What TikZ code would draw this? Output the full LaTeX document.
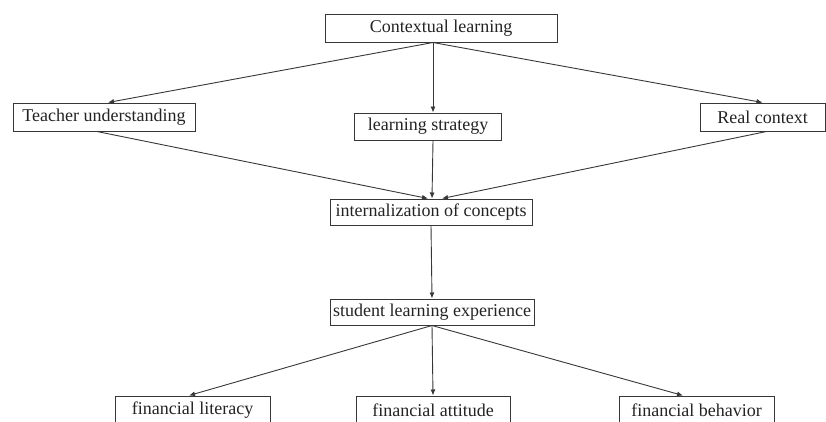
\documentclass[tikz,border=0pt]{standalone}
\usepackage{fontspec}
\setmainfont{Liberation Serif}
\usetikzlibrary{calc,arrows.meta,positioning}
\definecolor{lineColor}{RGB}{55,55,55}
\definecolor{textColor}{RGB}{35,35,35}
\newcommand{\diagfont}{\fontsize{18}{21}\selectfont}

\begin{document}
\begin{tikzpicture}[
    x=1pt, y=-1pt,
    box/.style={draw=lineColor, line width=1pt, minimum height=27pt, inner sep=0pt, align=center, font=\diagfont, text=textColor},
    arr/.style={-{Latex[length=6pt,width=5pt]}, line width=0.9pt, lineColor},
  ]
  \useasboundingbox (0,0) rectangle (826,421);
  \clip (0,0) rectangle (826,421);

  \node[box, minimum width=232pt, minimum height=28pt] (ctx) at (441,28) {Contextual learning};
  \node[box, minimum width=182pt, minimum height=28pt] (teacher) at (104,117) {Teacher understanding};
  \node[box, minimum width=147pt] (strategy) at (428,126.5) {learning strategy};
  \node[box, minimum width=125pt, minimum height=28pt] (real) at (762.5,117) {Real context};
  \node[box, minimum width=202pt, minimum height=26pt] (internal) at (431,212) {internalization of concepts};
  \node[box, minimum width=204pt, minimum height=26pt] (student) at (432,312) {student learning experience};
  \node[box, minimum width=155pt, minimum height=28pt] (lit) at (192.5,410) {financial literacy};
  \node[box, minimum width=154pt, minimum height=28pt] (att) at (433,410) {financial attitude};
  \node[box, minimum width=155pt, minimum height=28pt] (beh) at (696.5,410) {financial behavior};
  \coordinate (ctxout) at ([xshift=-8pt]ctx.south);

  \draw[arr] (ctxout) -- ([xshift=4pt]teacher.north);
  \draw[arr] (ctxout) -- (ctxout |- strategy.north);
  \draw[arr] (ctxout) -- (real.north);
  \draw[arr] ([xshift=-7pt]teacher.south) -- ([xshift=-3pt]internal.north);
  \draw[arr] (ctxout |- strategy.south) -- ([xshift=1pt]internal.north);
  \draw[arr] ([xshift=4pt]real.south) -- ([xshift=11pt]internal.north);
  \draw[arr] (internal.south) -- (student.north);
  \draw[arr] (student.south) -- ([xshift=-3.5pt]lit.north);
  \draw[arr] (student.south) -- (att.north);
  \draw[arr] (student.south) -- ([xshift=-13.5pt]beh.north);
\end{tikzpicture}
\end{document}
